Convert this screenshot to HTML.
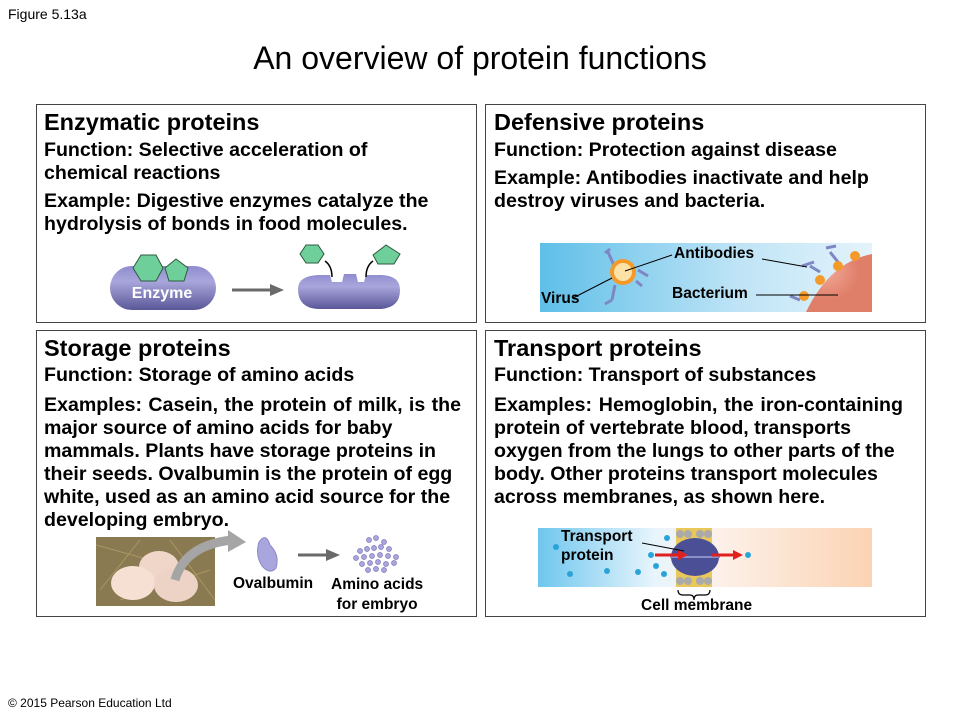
<!DOCTYPE html>
<html><head><meta charset="utf-8"><style>
body{margin:0;width:960px;height:720px;background:#fff;position:relative;overflow:hidden;font-family:"Liberation Sans",Arial,sans-serif;}
.a{position:absolute;white-space:nowrap;}
.box{position:absolute;border:1.5px solid #444;box-sizing:border-box;}
.t{position:absolute;font-size:23.5px;font-weight:bold;color:#000;}
.l{position:absolute;font-size:19.6px;font-weight:bold;color:#000;white-space:nowrap;line-height:23px;}
.j{text-align:justify;text-align-last:justify;}
.lab{position:absolute;font-size:15.5px;font-weight:bold;white-space:nowrap;}
</style></head><body>
<div class="a" style="left:8px;top:6px;font-size:14px;">Figure 5.13a</div>
<div class="a" style="left:0;width:960px;top:40px;text-align:center;font-size:32px;">An overview of protein functions</div>

<div class="box" style="left:36px;top:104px;width:441px;height:219px;"></div>
<div class="box" style="left:485px;top:104px;width:441px;height:219px;"></div>
<div class="box" style="left:36px;top:330px;width:441px;height:287px;"></div>
<div class="box" style="left:485px;top:330px;width:441px;height:287px;"></div>

<div class="t" style="left:44px;top:109px;">Enzymatic proteins</div>
<div class="l" style="left:44px;top:139px;">Function: Selective acceleration of</div>
<div class="l" style="left:44px;top:162px;">chemical reactions</div>
<div class="l" style="left:44px;top:190px;">Example: Digestive enzymes catalyze the</div>
<div class="l" style="left:44px;top:213px;">hydrolysis of bonds in food molecules.</div>

<div class="t" style="left:494px;top:109px;">Defensive proteins</div>
<div class="l" style="left:494px;top:139px;">Function: Protection against disease</div>
<div class="l" style="left:494px;top:167px;">Example: Antibodies inactivate and help</div>
<div class="l" style="left:494px;top:190px;">destroy viruses and bacteria.</div>

<div class="t" style="left:44px;top:335px;">Storage proteins</div>
<div class="l" style="left:44px;top:364px;">Function: Storage of amino acids</div>
<div class="l j" style="left:44px;top:394px;width:417px;">Examples: Casein, the protein of milk, is the</div>
<div class="l" style="left:44px;top:417px;">major source of amino acids for baby</div>
<div class="l" style="left:44px;top:440px;">mammals. Plants have storage proteins in</div>
<div class="l" style="left:44px;top:463px;">their seeds. Ovalbumin is the protein of egg</div>
<div class="l" style="left:44px;top:486px;">white, used as an amino acid source for the</div>
<div class="l" style="left:44px;top:509px;">developing embryo.</div>

<div class="t" style="left:494px;top:335px;">Transport proteins</div>
<div class="l" style="left:494px;top:364px;">Function: Transport of substances</div>
<div class="l j" style="left:494px;top:394px;width:409px;">Examples: Hemoglobin, the iron-containing</div>
<div class="l" style="left:494px;top:417px;">protein of vertebrate blood, transports</div>
<div class="l" style="left:494px;top:440px;">oxygen from the lungs to other parts of the</div>
<div class="l" style="left:494px;top:463px;">body. Other proteins transport molecules</div>
<div class="l" style="left:494px;top:486px;">across membranes, as shown here.</div>

<svg class="a" style="left:0;top:0" width="960" height="720">
<defs>
<linearGradient id="enz" x1="0" y1="0" x2="0" y2="1"><stop offset="0" stop-color="#8f8ccf"/><stop offset=".35" stop-color="#a9a6dc"/><stop offset="1" stop-color="#5a5798"/></linearGradient>
<linearGradient id="sky" x1="0" x2="1"><stop offset="0" stop-color="#5fbfe8"/><stop offset=".6" stop-color="#bfe4f6"/><stop offset="1" stop-color="#e4f3fb"/></linearGradient>
<linearGradient id="tr" x1="0" x2="1"><stop offset="0" stop-color="#6ec6ee"/><stop offset=".35" stop-color="#e8f5fc"/><stop offset=".55" stop-color="#fdf0e8"/><stop offset="1" stop-color="#fbd3b3"/></linearGradient>
<radialGradient id="bac" cx=".3" cy=".3"><stop offset="0" stop-color="#f3a897"/><stop offset="1" stop-color="#df7f6a"/></radialGradient>
</defs>
<rect x="110" y="266" width="106" height="44" rx="22" fill="url(#enz)"/>
<polygon points="133,275 141,262 156,262 163,275 156,288 141,288" transform="translate(0,-7)" fill="#6fcf9b" stroke="#2d5a3c" stroke-width="1"/>
<polygon points="165,268 176,259 188,268 184,281 169,281" fill="#6fcf9b" stroke="#2d5a3c" stroke-width="1"/>
<text x="162" y="298" font-size="16" font-weight="bold" fill="#fff" text-anchor="middle">Enzyme</text>
<line x1="232" y1="290" x2="272" y2="290" stroke="#6a6a6a" stroke-width="3"/>
<polygon points="270,284 284,290 270,296" fill="#6a6a6a"/>
<path d="M298,289 Q298,276 318,275 L330,275 L332,282 L342,282 L344,274 L356,274 L358,282 L364,282 L366,275 L382,275 Q400,276 400,290 Q400,308 380,309 L318,309 Q298,308 298,289Z" fill="url(#enz)"/>
<polygon points="300,254 306,245 318,245 324,254 318,263 306,263" fill="#6fcf9b" stroke="#2d5a3c"/>
<polygon points="373,255 386,245 400,254 394,264 378,264" fill="#6fcf9b" stroke="#2d5a3c"/>
<path d="M332,277 Q332,266 325,261" fill="none" stroke="#000" stroke-width="1.5"/>
<path d="M366,277 Q366,266 373,261" fill="none" stroke="#000" stroke-width="1.5"/>
<rect x="540" y="243" width="332" height="69" fill="url(#sky)"/>
<path d="M806,312 Q830,262 872,254 L872,312Z" fill="url(#bac)"/>
<g fill="#7f86c4" stroke="#7f86c4" stroke-width="3">
<line x1="616" y1="270" x2="608" y2="252"/><line x1="605" y1="253" x2="610" y2="249"/>
<line x1="638" y1="270" x2="648" y2="276"/><line x1="636" y1="281" x2="642" y2="286"/>
<line x1="615" y1="285" x2="612" y2="300"/><line x1="612" y1="300" x2="605" y2="304"/>
<line x1="810" y1="266" x2="820" y2="272"/><line x1="830" y1="252" x2="838" y2="262"/><line x1="790" y1="296" x2="800" y2="300"/>
<line x1="802" y1="266" x2="814" y2="262"/><line x1="826" y1="248" x2="836" y2="246"/>
</g>
<circle cx="623" cy="272" r="13" fill="#f39a2a"/><circle cx="623" cy="272" r="9" fill="#fde2a8"/>
<circle cx="820" cy="280" r="5" fill="#f39a2a"/><circle cx="838" cy="266" r="5" fill="#f39a2a"/><circle cx="855" cy="256" r="5" fill="#f39a2a"/><circle cx="804" cy="296" r="5" fill="#f39a2a"/>
<line x1="573" y1="298" x2="612" y2="278" stroke="#000"/>
<line x1="625" y1="271" x2="672" y2="255" stroke="#000"/>
<line x1="762" y1="259" x2="807" y2="267" stroke="#000"/>
<line x1="756" y1="295" x2="838" y2="295" stroke="#000"/>
<rect x="538" y="528" width="334" height="59" fill="url(#tr)"/>
<g fill="#aaa"><rect x="676" y="528" width="36" height="59" fill="#e8c85a"/>
<circle cx="680" cy="534" r="4"/><circle cx="688" cy="534" r="4"/><circle cx="700" cy="534" r="4"/><circle cx="708" cy="534" r="4"/>
<circle cx="680" cy="581" r="4"/><circle cx="688" cy="581" r="4"/><circle cx="700" cy="581" r="4"/><circle cx="708" cy="581" r="4"/></g>
<ellipse cx="695" cy="557" rx="24" ry="19" fill="#4b5096"/>
<line x1="670" y1="557" x2="720" y2="557" stroke="#8b90c8" stroke-width="2"/>
<line x1="655" y1="555" x2="680" y2="555" stroke="#e02020" stroke-width="3"/><polygon points="678,550 688,555 678,560" fill="#e02020"/>
<line x1="712" y1="555" x2="735" y2="555" stroke="#e02020" stroke-width="3"/><polygon points="733,550 743,555 733,560" fill="#e02020"/>
<g fill="#2aa4d8"><circle cx="556" cy="547" r="3"/><circle cx="651" cy="555" r="3"/><circle cx="667" cy="538" r="3"/><circle cx="570" cy="574" r="3"/><circle cx="607" cy="571" r="3"/><circle cx="638" cy="572" r="3"/><circle cx="656" cy="566" r="3"/><circle cx="664" cy="574" r="3"/><circle cx="748" cy="555" r="3"/></g>
<line x1="642" y1="543" x2="684" y2="551" stroke="#000"/>
<path d="M678,590 Q678,595 683,595 L690,595 Q694,595 694,600 Q694,595 698,595 L705,595 Q710,595 710,590" fill="none" stroke="#000" stroke-width="1.2"/>
<rect x="96" y="537" width="119" height="69" fill="#8a7a52"/>
<g stroke="#b9a46d" stroke-width="1" opacity=".7"><line x1="96" y1="545" x2="150" y2="560"/><line x1="120" y1="600" x2="210" y2="570"/><line x1="100" y1="590" x2="140" y2="540"/><line x1="170" y1="540" x2="215" y2="600"/></g>
<ellipse cx="159" cy="567" rx="20" ry="16" fill="#f0d6c9"/>
<ellipse cx="133" cy="583" rx="22" ry="17" fill="#f6e0d4"/>
<ellipse cx="176" cy="585" rx="22" ry="17" fill="#edd3c5"/>
<path d="M175,580 Q185,545 232,540" fill="none" stroke="#a5a5a5" stroke-width="9"/>
<polygon points="228,530 246,542 228,552" fill="#a5a5a5"/>
<path d="M259,542 Q266,532 270,545 Q280,555 276,568 Q270,575 262,566 Q255,555 259,542Z" fill="#a9a5dd" stroke="#8c88c8"/>
<line x1="298" y1="555" x2="328" y2="555" stroke="#6a6a6a" stroke-width="3"/><polygon points="326,549 340,555 326,561" fill="#6a6a6a"/>
<g fill="#a9a5dd" stroke="#7c78b8" stroke-width=".7">
<circle cx="369" cy="540" r="2.5"/><circle cx="376" cy="538" r="2.5"/><circle cx="360" cy="551" r="2.5"/><circle cx="367" cy="549" r="2.5"/><circle cx="374" cy="548" r="2.5"/><circle cx="381" cy="547" r="2.5"/><circle cx="389" cy="549" r="2.5"/><circle cx="384" cy="542" r="2.5"/>
<circle cx="356" cy="558" r="2.5"/><circle cx="364" cy="557" r="2.5"/><circle cx="372" cy="556" r="2.5"/><circle cx="380" cy="555" r="2.5"/><circle cx="388" cy="556" r="2.5"/><circle cx="396" cy="557" r="2.5"/>
<circle cx="362" cy="564" r="2.5"/><circle cx="370" cy="563" r="2.5"/><circle cx="378" cy="562" r="2.5"/><circle cx="386" cy="564" r="2.5"/><circle cx="394" cy="563" r="2.5"/><circle cx="376" cy="569" r="2.5"/><circle cx="384" cy="570" r="2.5"/><circle cx="368" cy="570" r="2.5"/>
</g>
</svg>

<div class="lab" style="left:674px;top:245px;">Antibodies</div>
<div class="lab" style="left:672px;top:285px;">Bacterium</div>
<div class="lab" style="left:541px;top:290px;">Virus</div>
<div class="lab" style="left:561px;top:527px;line-height:19px;">Transport<br>protein</div>
<div class="lab" style="left:641px;top:597px;">Cell membrane</div>
<div class="lab" style="left:233px;top:575px;">Ovalbumin</div>
<div class="lab" style="left:331px;top:575px;text-align:center;line-height:20px;">Amino acids<br>for embryo</div>

<div class="a" style="left:8px;top:696px;font-size:12px;">© 2015 Pearson Education Ltd</div>
</body></html>
